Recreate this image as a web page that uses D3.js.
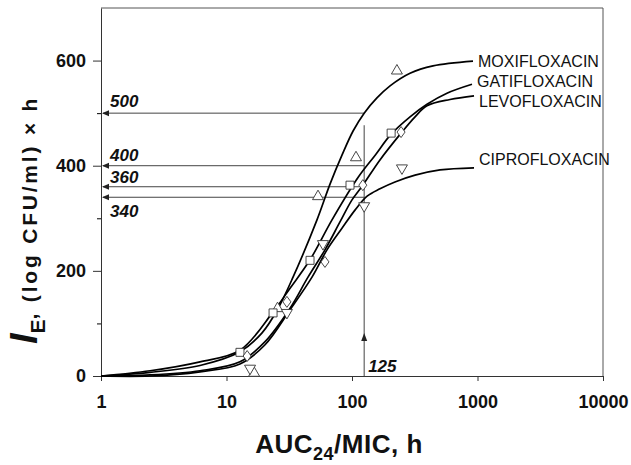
<!DOCTYPE html>
<html><head><meta charset="utf-8">
<script src="https://cdn.jsdelivr.net/npm/d3@7/dist/d3.min.js"></script>
<style>
html,body{margin:0;padding:0;background:#fff;}
svg{display:block;font-family:"Liberation Sans",Arial,Helvetica,sans-serif;}
</style></head>
<body>
<svg id="chart" width="631" height="465"></svg>
<script>
// ---- data ----
const xTicks = [1, 10, 100, 1000, 10000];
const yTicks = [0, 200, 400, 600];
const yMinorTicks = [100, 300, 500];
const drugNames = ["MOXIFLOXACIN", "GATIFLOXACIN", "LEVOFLOXACIN", "CIPROFLOXACIN"];

// fitted curves (AUC24/MIC, I_E)
const moxiCurve = [[1,0],[2.46,7],[6.15,20],[12.8,46],[19.2,82],[25.3,125],[33.9,188],[52.6,297],[66.8,365],[83.2,420],[102,466],[125,500],[158,529],[201,552],[290,576],[442,590],[921,599]];
const gatiCurve = [[1,0],[2.46,10],[6.15,27],[12.8,49],[23.5,122],[32.1,167],[46.3,221],[69.3,297],[112,378],[153,420],[205,460],[290,493],[396,517],[571,538],[904,555]];
const levoCurve = [[1,0],[2.46,2],[6.15,10],[12.8,27],[20.2,65],[32.1,129],[44.6,188],[60.9,240],[80.2,293],[100,335],[122,363],[167,411],[246,462],[318,493],[396,514],[604,526],[938,533]];
const ciproCurve = [[1,0],[2.46,0],[6.15,8],[12.8,23],[20.2,59],[32.1,126],[48,188],[63.2,240],[83.2,281],[106,316],[132,342],[167,356],[220,369],[318,382],[503,392],[938,396]];

// observed points
const moxiPts = [[16.6,8],[25.5,131],[53.6,344],[107.6,418],[228,583]];
const gatiPts = [[12.8,45],[23.5,120],[46.3,220],[96.4,363],[205,462]];
const levoPts = [[14.6,38],[30.3,141],[60.9,217],[122,363],[246,464]];
const ciproPts = [[15.4,12],[30.3,118],[58.7,249],[125,321],[250,393]];

// reference annotations
const refLevels = [500, 400, 360, 340];
const refX = 125;
const refTop = 477;
const refArrowY = 80;

// ---- drawing ----
const svg = d3.select("#chart");
const x = d3.scaleLog().domain([1, 10000]).range([101, 603]);
const y = d3.scaleLinear().domain([0, 700]).range([376, 8]);

// frame (top & right)
svg.append("path")
  .attr("d", `M${x(1)},${y(700)}H${x(10000)}V${y(0)}`)
  .attr("fill", "none").attr("stroke", "#555").attr("stroke-width", 1);

// axes
const yAxis = svg.append("g").attr("transform", `translate(${x(1)},0)`)
  .call(d3.axisLeft(y).tickValues(yTicks).tickSize(8).tickSizeOuter(0).tickPadding(7).tickFormat(d3.format("d")));
svg.append("g").attr("transform", `translate(${x(1)},0)`)
  .call(d3.axisLeft(y).tickValues(yMinorTicks).tickSize(4).tickSizeOuter(0).tickFormat(""))
  .select(".domain").remove();
const xAxis = svg.append("g").attr("transform", `translate(0,${y(0)})`)
  .call(d3.axisBottom(x).tickValues(xTicks).tickSize(5).tickSizeOuter(0).tickPadding(14).tickFormat(d3.format("d")));
[yAxis, xAxis].forEach(g => {
  g.selectAll("text").attr("font-size", 18).attr("font-weight", "bold")
    .attr("font-family", "'Liberation Sans',Arial,sans-serif").attr("fill", "#111");
  g.selectAll("line,path").attr("stroke", "#333");
});

// reference lines
const ann = svg.append("g").attr("stroke", "#444").attr("stroke-width", 1).attr("fill", "none");
refLevels.forEach(v => {
  ann.append("line").attr("x1", x(1) + 2).attr("x2", x(refX)).attr("y1", y(v)).attr("y2", y(v));
  svg.append("path").attr("d", `M${x(1)+1},${y(v)}l7,-3v6z`).attr("fill", "#222");
});
ann.append("line").attr("x1", x(refX)).attr("x2", x(refX)).attr("y1", y(0)).attr("y2", y(refTop));
svg.append("path").attr("d", `M${x(refX)},${y(refArrowY)-1}l-3,8h6z`).attr("fill", "#222");

const refLabelDy = [-6, -5, -4, 20];
refLevels.forEach((v, i) => {
  svg.append("text").attr("x", x(1) + 9).attr("y", y(v) + refLabelDy[i])
    .attr("font-size", 17).attr("font-weight", "bold").attr("font-style", "italic")
    .attr("fill", "#111").text(v);
});
svg.append("text").attr("x", x(refX) + 4).attr("y", y(0) - 4)
  .attr("font-size", 17).attr("font-weight", "bold").attr("font-style", "italic")
  .attr("fill", "#111").text(refX);

// curves
const line = d3.line().x(d => x(d[0])).y(d => y(d[1])).curve(d3.curveCatmullRom.alpha(0.5));
const curves = [moxiCurve, gatiCurve, levoCurve, ciproCurve];
curves.forEach(c => {
  svg.append("path").attr("d", line(c)).attr("fill", "none")
    .attr("stroke", "#000").attr("stroke-width", 1.7);
});

// curve labels
const labelDy = [0, -3, 5, -9];
curves.forEach((c, i) => {
  const last = c[c.length - 1];
  svg.append("text").attr("x", x(last[0]) + 5).attr("y", y(last[1]) + labelDy[i])
    .attr("dy", "0.36em").attr("font-size", 16).attr("fill", "#111").text(drugNames[i]);
});

// markers
const mk = svg.append("g").attr("fill", "#fff").attr("stroke", "#333").attr("stroke-width", 0.9);
const triUp = "M0,-5L5.5,4.5L-5.5,4.5Z";
const triDown = "M0,5L5.5,-4.5L-5.5,-4.5Z";
const sq = "M-4,-4H4V4H-4Z";
const dia = "M0,-5.5L4,0L0,5.5L-4,0Z";
const sets = [[moxiPts, triUp], [gatiPts, sq], [levoPts, dia], [ciproPts, triDown]];
sets.forEach(([pts, shape]) => {
  pts.forEach(p => {
    mk.append("path").attr("d", shape).attr("transform", `translate(${x(p[0])},${y(p[1])})`);
  });
});

// axis titles
const xt = svg.append("text").attr("x", 339).attr("y", 453).attr("text-anchor", "middle")
  .attr("font-size", 26).attr("font-weight", "bold").attr("letter-spacing", 0.5).attr("fill", "#111");
xt.append("tspan").text("AUC");
xt.append("tspan").attr("font-size", 18).attr("dy", 7).text("24");
xt.append("tspan").attr("dy", -7).text("/MIC, h");

const yt = svg.append("text").attr("transform", "translate(37,344) rotate(-90)")
  .attr("font-weight", "bold").attr("fill", "#111");
yt.append("tspan").attr("font-size", 38).attr("font-style", "italic").text("I");
yt.append("tspan").attr("font-size", 21).attr("dy", 8).text("E");
yt.append("tspan").attr("font-size", 21).attr("dy", -8).attr("letter-spacing", 2.8).text(", (log CFU/ml) × h");
</script>
</body></html>
